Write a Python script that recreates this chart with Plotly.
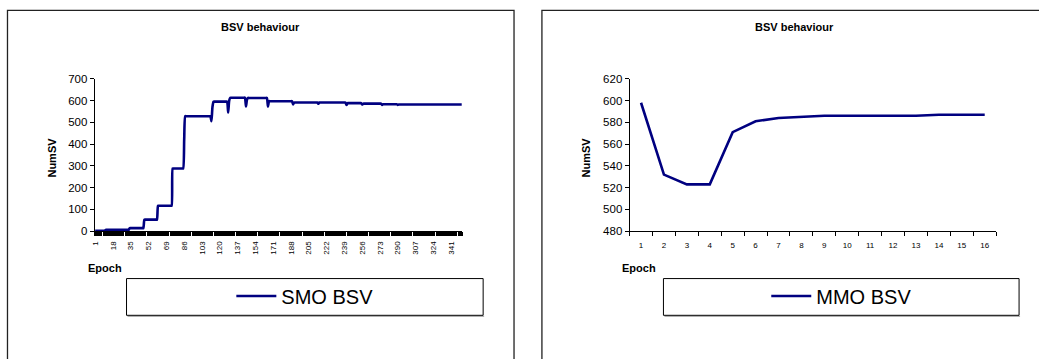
import plotly.graph_objects as go

W, H = 1039, 359

# ---------------- data ----------------
# SMO BSV: plateau levels and how many consecutive epochs each lasts (epochs 1..351)
smo_levels = [2, 6, 14, 53, 117, 288, 420, 528, 505, 570, 595, 545, 600, 613, 573, 605,
              612, 572, 597, 582, 591, 585, 591, 580, 588, 582, 586, 580, 583, 580, 582]
smo_runs = [10, 23, 14, 13, 14, 11, 1, 25, 1, 1, 14, 1, 1, 15, 1, 1,
            19, 1, 23, 1, 23, 1, 26, 1, 14, 1, 18, 1, 14, 1, 61]
smo_tick_labels = [1, 18, 35, 52, 69, 86, 103, 120, 137, 154, 171, 188, 205, 222,
                   239, 256, 273, 290, 307, 324, 341]

mmo_epochs = list(range(1, 17))
mmo_values = [598, 532, 523, 523, 571, 581, 584, 585, 586, 586, 586, 586, 586, 587, 587, 587]

smo_values = []
for lv, n in zip(smo_levels, smo_runs):
    smo_values += [lv] * n
smo_epochs = list(range(1, len(smo_values) + 1))

# ---------------- helpers ----------------
def px(x):
    return x / W

def py(y):
    return 1 - y / H

FONT = "Liberation Sans, Arial, sans-serif"
NAVY = "#000080"

fig = go.Figure()
fig.add_trace(go.Scatter(x=smo_epochs, y=smo_values, mode="lines", name="SMO BSV",
                         line=dict(color=NAVY, width=2.6, shape="spline", smoothing=0.6),
                         xaxis="x", yaxis="y", legend="legend"))
fig.add_trace(go.Scatter(x=mmo_epochs, y=mmo_values, mode="lines", name="MMO BSV",
                         line=dict(color=NAVY, width=2.6), xaxis="x2", yaxis="y2",
                         legend="legend2"))

ydom = [py(233), py(75.3)]

common_x = dict(showgrid=False, zeroline=False, showline=True, linecolor="black",
                linewidth=1, ticks="", ticklabelstandoff=6,
                tickfont=dict(family=FONT, size=8, color="black"),
                fixedrange=True)
common_y = dict(showgrid=False, zeroline=False, showline=True, linecolor="black",
                linewidth=1, ticks="outside", ticklen=4, tickcolor="black",
                tickfont=dict(family=FONT, size=11.5, color="black"), fixedrange=True)

fig.update_layout(
    width=W, height=H, margin=dict(l=0, r=0, t=0, b=0),
    paper_bgcolor="white", plot_bgcolor="white",
    xaxis=dict(domain=[px(91), px(460)], range=[0.5, len(smo_values) + 0.5],
               tickmode="array", tickvals=smo_tick_labels,
               ticktext=[str(v) for v in smo_tick_labels], tickangle=-90,
               minor=dict(tickmode="linear", tick0=0.5, dtick=1, ticks="outside",
                          ticklen=4, tickcolor="black", tickwidth=1),
               anchor="y", **common_x),
    yaxis=dict(domain=ydom, range=[0, 700], dtick=100, anchor="x", **common_y),
    xaxis2=dict(domain=[px(628), px(996)], range=[0.5, 16.5],
                tickmode="array", tickvals=mmo_epochs,
                ticktext=[str(v) for v in mmo_epochs], tickangle=0,
                minor=dict(tickmode="linear", tick0=0.5, dtick=1, ticks="outside",
                           ticklen=4, tickcolor="black", tickwidth=1),
                anchor="y2", **common_x),
    yaxis2=dict(domain=ydom, range=[480, 620], dtick=20, anchor="x2", **common_y),
    legend=dict(x=px(302), y=py(300), xanchor="center", yanchor="middle",
                bgcolor="rgba(0,0,0,0)", borderwidth=0,
                font=dict(family=FONT, size=20, color="black"), itemwidth=40),
    legend2=dict(x=px(841), y=py(300), xanchor="center", yanchor="middle",
                 bgcolor="rgba(0,0,0,0)", borderwidth=0,
                 font=dict(family=FONT, size=20, color="black"), itemwidth=40),
    showlegend=True,
)

shapes = []
# panel frames
for x0, x1 in [(3.5, 512), (540, 1050)]:
    shapes.append(dict(type="rect", xref="paper", yref="paper",
                       x0=px(x0), x1=px(x1), y0=py(370), y1=py(4.5),
                       line=dict(color="#222222", width=1.3), layer="below"))
# legend frames (with a soft grey lower edge)
for x0, x1 in [(123, 481), (662, 1019)]:
    shapes.append(dict(type="line", xref="paper", yref="paper",
                       x0=px(x0 + 1), x1=px(x1 + 1), y0=py(321), y1=py(321),
                       line=dict(color="#999999", width=1), layer="below"))
    shapes.append(dict(type="rect", xref="paper", yref="paper",
                       x0=px(x0), x1=px(x1), y0=py(320), y1=py(282),
                       line=dict(color="black", width=1), layer="below"))
fig.update_layout(shapes=shapes)

ann = []
for cx in [257.5, 794]:
    ann.append(dict(text="<b>BSV behaviour</b>", x=px(cx), y=py(22), xref="paper", yref="paper",
                    showarrow=False, xanchor="center", yanchor="middle",
                    font=dict(family=FONT, size=11, color="black")))
for lx, ty in [(82, 271), (618, 271)]:
    ann.append(dict(text="<b>Epoch</b>", x=px(lx), y=py(ty), xref="paper", yref="paper",
                    showarrow=False, xanchor="left", yanchor="middle",
                    font=dict(family=FONT, size=11, color="black")))
for tx in [48, 584]:
    ann.append(dict(text="<b>NumSV</b>", x=px(tx), y=py(157), xref="paper", yref="paper",
                    showarrow=False, xanchor="center", yanchor="middle", textangle=-90,
                    font=dict(family=FONT, size=11, color="black")))
fig.update_layout(annotations=ann)

fig.write_html("out.html")
